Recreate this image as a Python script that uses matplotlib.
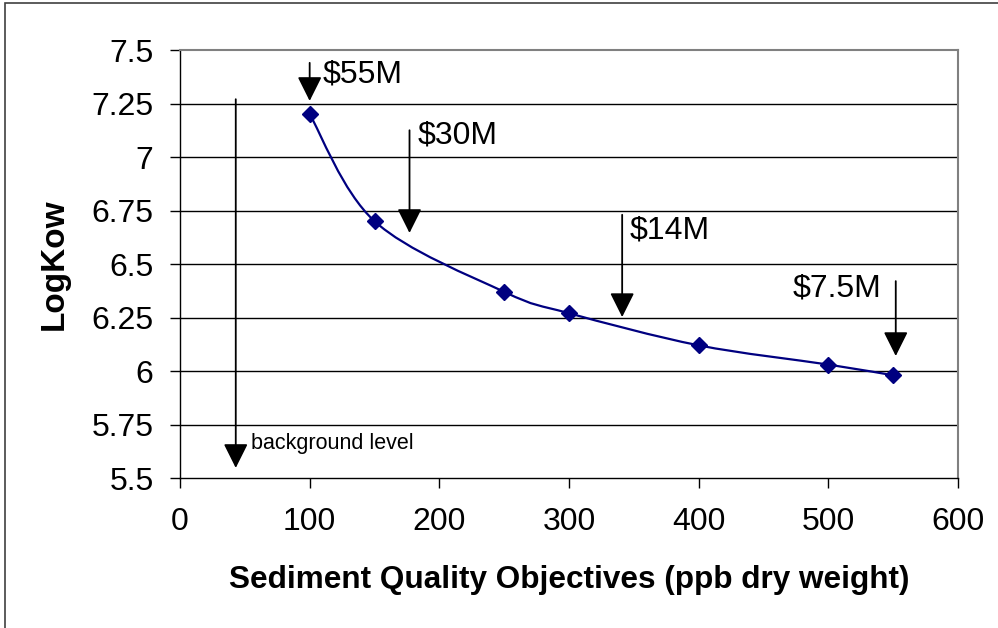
import numpy as np
import matplotlib
matplotlib.use("Agg")
import matplotlib.pyplot as plt
from matplotlib.path import Path
from matplotlib.patches import PathPatch, Rectangle

plt.rcParams['font.family'] = ['Liberation Sans', 'DejaVu Sans']

# Data
sqo = [100, 150, 250, 300, 400, 500, 550]
logkow = [7.2, 6.7, 6.37, 6.27, 6.12, 6.03, 5.98]
y_ticks = [5.5, 5.75, 6.0, 6.25, 6.5, 6.75, 7.0, 7.25, 7.5]
y_tick_labels = ["5.5", "5.75", "6", "6.25", "6.5", "6.75", "7", "7.25", "7.5"]
x_ticks = [0, 100, 200, 300, 400, 500, 600]

# Annotations: (label, arrow x, arrow top y, arrow tip y, text x, text y, ha)
cost_labels = ["$55M", "$30M", "$14M", "$7.5M"]
cost_arrow_x = [100, 177, 341, 552]
cost_arrow_top = [7.44, 7.125, 6.73, 6.42]
cost_arrow_tip = [7.262, 6.645, 6.252, 6.07]
cost_text_x = [110, 183, 347, 541]
cost_text_y = [7.385, 7.10, 6.655, 6.385]
cost_text_ha = ["left", "left", "left", "right"]

bg_label = "background level"
bg_arrow_x = 43
bg_arrow_top = 7.27
bg_arrow_tip = 5.547
bg_text_x = 55
bg_text_y = 5.66

navy = "#000080"

fig = plt.figure(figsize=(9.98, 6.28), dpi=100)
ax = fig.add_axes([180/998, 1-478/628, (958-180)/998, (478-50)/628])

ax.set_xlim(0, 600)
ax.set_ylim(5.5, 7.5)

# grid
for yv in y_ticks[1:-1]:
    ax.axhline(yv, color="black", lw=1.0, zorder=1)

# smooth (Excel-like Catmull-Rom Bezier) line through data
pts = np.column_stack([sqo, logkow]).astype(float)
verts = [tuple(pts[0])]
codes = [Path.MOVETO]
n = len(pts)
for i in range(n - 1):
    p0 = pts[i - 1] if i > 0 else pts[i]
    p1 = pts[i]
    p2 = pts[i + 1]
    p3 = pts[i + 2] if i + 2 < n else pts[i + 1]
    c1 = p1 + (p2 - p0) / 6.0
    c2 = p2 - (p3 - p1) / 6.0
    verts += [tuple(c1), tuple(c2), tuple(p2)]
    codes += [Path.CURVE4] * 3
ax.add_patch(PathPatch(Path(verts, codes), facecolor="none", edgecolor=navy, lw=1.6, zorder=3))
ax.plot(sqo, logkow, linestyle="none", marker="D", ms=8, color=navy, zorder=4)

arrowprops = dict(arrowstyle="-|>,head_length=1.0,head_width=0.5", color="black", lw=1.3,
                  shrinkA=0, shrinkB=0, mutation_scale=15)
for lab, ax_x, top, tip, tx, ty, ha in zip(cost_labels, cost_arrow_x, cost_arrow_top,
                                             cost_arrow_tip, cost_text_x, cost_text_y, cost_text_ha):
    ax.annotate("", xy=(ax_x, tip), xytext=(ax_x, top), arrowprops=arrowprops, zorder=5)
    ax.text(tx, ty, lab, fontsize=23, ha=ha, va="center", color="black", zorder=5)

ax.annotate("", xy=(bg_arrow_x, bg_arrow_tip), xytext=(bg_arrow_x, bg_arrow_top),
            arrowprops=arrowprops, zorder=5)
ax.text(bg_text_x, bg_text_y, bg_label, fontsize=15.5, ha="left", va="center", zorder=5)

ax.set_yticks(y_ticks)
ax.set_yticklabels(y_tick_labels)
ax.set_xticks(x_ticks)
ax.tick_params(axis="both", direction="out", length=7, width=1, labelsize=23, color="black")
ax.tick_params(axis="y", pad=12)
ax.tick_params(axis="x", pad=14)

for s in ["top", "right"]:
    ax.spines[s].set_color("#808080")
    ax.spines[s].set_linewidth(1.5)
for s in ["left", "bottom"]:
    ax.spines[s].set_color("black")
    ax.spines[s].set_linewidth(1.0)

ax.set_xlabel("Sediment Quality Objectives (ppb dry weight)", fontsize=22.7, fontweight="bold", labelpad=20)
ax.set_ylabel("LogKow", fontsize=24, fontweight="bold", labelpad=16)

# outer chart frame
fig.add_artist(Rectangle((5/998, -0.1), 1.2, 1.1 - 3/628, transform=fig.transFigure,
                         fill=False, edgecolor="#404040", lw=1.2))

fig.savefig("out.png", dpi=100)
